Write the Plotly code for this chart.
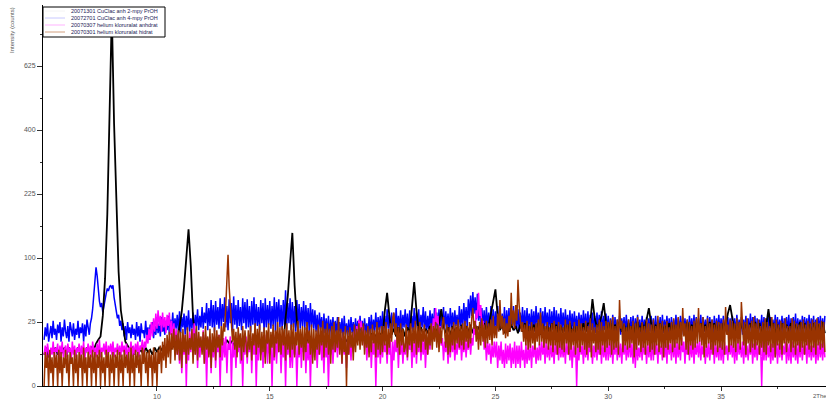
import numpy as np
import plotly.graph_objects as go

# ---- data (counts) ----
# blue / magenta / brown scans: 2-theta from 5.00 in steps of 0.05
# black scan: 2-theta from 5.0 in steps of 0.1
X_START = 5.0
STEP_FINE = 0.05
STEP_BLACK = 0.1

SERIES_NAMES = [
    "20071301 CuClac anh 2-mpy PrOH",
    "20072701 CuClac anh 4-mpy PrOH",
    "20070307 helium kloruralat anhdrat",
    "20070301 helium kloruralat hidrat",
]

blue_4mpy = [
13,21,15,24,12,19,22,14,26,16, 20,13,23,17,25,12,21,15,27,18,
14,22,12,25,19,15,24,13,20,16, 26,14,21,17,24,12,23,15,27,19,
16,24,28,36,48,66,86,74,55,44, 38,42,33,40,46,52,58,55,60,62,
58,62,48,40,34,28,31,22,26,19, 24,15,22,13,25,17,21,14,23,16,
20,13,25,15,22,12,24,17,19,14, 26,15,21,13,23,18,25,14,22,16,
27,17,24,15,29,18,22,16,26,19, 30,16,27,19,33,17,28,20,31,18,
34,17,29,21,32,16,30,19,35,18, 28,20,33,17,31,22,36,19,30,21,
38,20,33,24,42,19,37,22,45,21, 40,18,44,23,38,20,47,22,41,25,
48,21,39,19,46,24,42,18,49,23, 40,20,45,22,38,19,47,24,43,20,
46,21,39,18,44,23,48,20,41,22, 38,19,45,24,42,17,47,21,40,23,
44,20,39,22,48,18,43,25,46,21, 40,19,45,23,56,20,42,24,47,19,
43,21,39,18,45,23,41,20,38,22, 44,19,40,22,37,17,42,21,36,20,
35,18,31,16,33,20,29,15,32,17, 28,16,30,14,27,17,29,15,26,16,
29,15,25,17,28,14,30,16,24,15, 27,14,29,17,25,15,28,16,26,14,
30,16,26,15,28,17,24,14,29,16, 31,17,27,18,33,16,29,19,30,18,
34,18,30,17,36,20,31,18,33,19, 32,17,37,20,30,19,35,18,31,21,
36,19,32,17,35,20,30,18,37,19, 33,20,36,18,31,21,38,19,34,17,
30,19,35,21,32,18,37,20,33,19, 36,18,31,20,38,19,34,21,32,18,
37,20,33,19,35,22,31,18,39,21, 36,20,42,23,38,21,46,28,50,30,
54,32,48,27,52,26,40,22,37,20, 35,19,38,21,33,18,39,20,36,19,
34,18,39,21,36,20,32,19,38,17, 35,20,37,18,33,21,39,19,34,20,
36,18,33,20,38,19,35,17,37,21, 32,19,36,20,34,18,39,21,33,19,
37,20,34,18,38,21,33,19,36,18, 34,19,38,17,35,20,32,18,37,19,
33,18,36,20,31,17,35,19,32,18, 34,19,30,17,33,20,31,18,35,19,
32,18,34,17,31,19,33,18,30,17, 33,19,31,18,34,17,30,19,32,18,
30,17,28,18,31,16,29,17,27,18, 30,16,28,19,29,17,31,18,27,16,
29,17,30,16,28,18,31,17,27,16, 30,18,27,17,29,16,28,18,30,17,
28,16,30,17,27,18,29,16,31,17, 27,18,30,17,28,16,29,18,27,17,
31,17,28,18,30,16,29,17,28,18, 27,16,30,18,28,17,31,16,29,18,
28,17,31,16,29,18,27,17,30,16, 29,18,27,16,30,17,28,18,31,17,
28,16,30,18,27,17,29,16,28,18, 30,17,28,16,31,18,27,17,29,16,
27,18,30,17,28,16,32,18,29,17, 30,16,28,18,27,17,31,16,29,18,
28,17,30,16,29,18,27,17,31,16, 29,18,27,17,30,16,28,18,29,17,
31,16,28,18,29,17,32,16,28,18, 27,17,30,16,29,18,28,17,31,16,
28,18,30,17,27,16,29,18,30,17, 28,17,30]

black_2mpy = [
6,9,5,8,7,9,6,8,7,9,
6,9,7,8,6,9,7,8,6,9,
7,9,8,11,13,15,30,70,180,450,
850,420,220,80,35,20,12,10,8,9,
6,9,7,8,6,9,7,8,6,9,
7,9,8,10,7,9,8,10,9,12,
22,34,60,97,150,88,28,14,10,13,
10,14,11,13,10,12,12,14,11,13,
10,13,11,12,10,14,9,12,11,13,
10,13,9,14,11,12,10,13,9,12,
10,13,11,12,9,13,11,28,50,92,
143,62,26,14,10,13,11,14,10,13,
10,14,11,13,10,14,11,13,10,14,
11,15,12,14,12,15,11,14,12,15,
12,16,13,15,12,17,13,16,14,17,
15,35,53,30,16,20,15,21,16,20,
15,21,17,38,66,35,18,21,16,20,
17,22,16,21,18,24,36,22,17,21,
16,22,18,21,17,23,16,22,18,23,
17,23,19,22,18,24,19,22,32,45,
57,30,19,23,17,22,18,23,19,22,
17,23,18,24,16,22,18,23,17,24,
16,23,18,22,17,24,18,23,16,22,
17,23,18,24,17,22,16,23,18,24,
18,24,24,46,28,21,24,30,42,24,
18,24,17,23,19,25,18,23,17,24,
18,23,17,25,18,24,19,27,37,24,
18,23,17,24,18,22,19,24,18,23,
17,24,18,23,19,25,18,23,17,24,
18,24,17,23,18,25,19,24,18,23,
17,24,22,32,40,28,18,23,17,24,
18,23,17,24,19,25,18,24,17,23,
22,36,21,24,17,23,18,24,19,23,
18,24,17,23,19,25,18,24,17,23,
18,24,19,23,18,25,17]

magenta_anh = [
6,10,5,11,7,4,9,6,12,5, 9,7,11,4,10,6,12,5,8,10,
5,11,7,9,4,12,6,10,5,9, 7,11,5,10,6,12,4,9,7,11,
6,10,5,12,7,9,5,11,6,13, 5,9,7,11,6,12,4,10,7,11,
6,12,5,9,7,11,6,10,5,12, 7,10,6,11,4,9,7,12,5,10,
6,11,7,12,5,10,8,13,6,12, 9,16,11,20,13,25,15,28,18,32,
20,35,22,30,18,33,21,29,17,31, 22,33,16,26,12,24,10,20,6,16,
3,14,1,11,6,16,0,12,4,18, 7,20,10,24,6,18,2,15,5,13,
8,19,3,16,0,14,6,12,1,13, 5,15,2,11,7,16,0,12,4,14,
5,15,1,11,8,15,0,12,5,13, 2,12,7,16,3,14,0,11,6,15,
3,12,7,15,1,14,6,16,0,11, 4,13,6,15,2,12,5,16,3,12,
6,15,0,12,4,16,3,13,7,15, 1,12,5,14,0,13,6,15,2,11,
2,13,6,14,0,10,5,15,2,13, 7,14,1,12,4,16,0,11,5,14,
7,14,2,12,6,16,4,12,1,15, 5,13,0,11,6,15,3,12,7,14,
5,14,8,13,3,15,6,12,2,14, 6,13,4,15,7,18,11,22,14,27,
20,26,15,22,9,15,4,12,7,15, 2,12,6,14,0,11,5,15,3,13,
5,15,7,11,3,14,6,13,0,12, 4,13,7,15,2,12,6,14,3,11,
6,15,4,14,8,13,2,12,5,16, 3,12,7,14,4,13,6,15,2,12,
6,15,8,18,12,28,20,37,24,30, 14,22,10,14,4,12,7,13,3,12,
5,14,7,15,4,11,6,16,8,14, 4,12,7,15,5,13,8,16,6,14,
10,22,16,35,28,53,30,40,18,26, 8,14,4,12,6,11,3,10,5,12,
5,12,2,10,4,12,3,8,2,11, 3,10,4,11,2,9,3,12,2,10,
3,10,2,12,4,8,2,11,3,9, 4,11,2,10,5,12,3,9,4,11,
4,12,6,11,3,13,5,10,4,12, 5,10,3,12,6,11,4,13,5,10,
5,11,3,13,6,10,4,12,2,10, 5,12,0,11,4,13,6,10,3,12,
5,13,4,11,7,12,3,10,5,14, 4,11,6,13,3,12,5,10,4,13,
4,12,5,14,3,10,6,13,4,12, 5,11,3,13,6,12,4,10,5,14,
5,11,3,12,2,14,4,9,5,12, 4,13,6,10,3,12,5,11,4,13,
4,13,6,11,3,12,6,10,4,14, 5,12,3,14,6,11,4,13,5,12,
3,12,5,11,4,14,7,12,3,11, 6,13,4,12,5,14,3,11,6,12,
5,13,4,10,6,12,3,10,5,12, 4,11,6,13,3,12,5,10,4,13,
4,11,3,12,6,10,4,13,6,11, 5,12,3,11,4,13,6,10,5,12,
3,12,5,10,4,11,6,13,3,11, 5,12,4,10,6,11,0,13,4,12,
4,12,5,10,3,11,4,12,5,13, 3,11,5,12,4,10,6,12,3,11,
4,11,3,12,5,10,4,11,3,12, 5,12,4,10,6,11,3,13,5,10,
4,10,5,12,3,11,4,12,5,11, 4,12,5]

brown_hyd = [
0,7,2,6,0,8,1,5,0,7, 2,6,0,8,1,7,0,5,2,8,
1,6,0,7,3,5,0,8,1,6, 0,7,2,6,0,9,1,5,0,7,
2,6,0,8,1,7,0,6,2,8, 0,7,1,5,0,8,2,7,0,6,
1,7,0,6,2,8,0,7,1,6, 0,8,2,6,1,7,0,9,1,6,
0,8,2,7,1,6,0,9,3,8, 1,7,0,8,2,6,0,9,1,7,
0,8,3,10,1,12,4,14,2,16, 5,18,3,17,8,20,4,16,6,19,
4,18,2,20,7,16,3,21,6,14, 8,20,3,17,6,22,4,18,9,15,
6,18,3,22,8,15,5,20,2,17, 7,21,4,19,9,16,5,22,10,24,
18,45,70,105,60,40,22,12,20,8, 18,5,21,9,17,4,22,7,19,10,
5,19,8,22,4,17,10,24,6,20, 9,23,4,18,7,21,3,19,11,24,
3,18,9,23,5,19,11,25,7,21, 6,22,10,20,4,24,8,19,5,23,
8,24,5,18,10,26,6,20,9,22, 4,21,7,25,11,19,6,23,3,20,
4,19,8,23,6,21,10,26,5,20, 9,24,6,20,3,22,8,25,7,19,
9,29,6,20,3,18,7,22,0,19, 6,21,9,18,4,23,7,20,10,24,
8,21,10,24,6,19,9,22,5,20, 7,23,11,19,5,25,8,21,6,22,
7,22,10,25,6,20,9,24,12,28, 33,16,24,9,21,6,24,10,20,7,
9,23,5,19,10,24,7,21,11,26, 6,22,9,25,7,20,12,23,8,19,
6,20,10,24,8,22,12,25,9,23, 7,21,11,24,29,18,9,23,6,21,
7,21,10,25,8,23,11,27,9,22, 10,24,8,26,12,22,9,25,11,28,
37,20,26,12,22,8,25,10,28,12, 23,9,26,11,24,13,27,10,30,14,
22,14,32,18,45,20,30,16,28,14, 24,15,30,18,53,22,35,20,40,26,
69,40,28,18,25,12,23,10,26,8, 22,9,25,11,21,8,24,12,27,10,
33,12,24,9,22,11,25,8,21,10, 24,7,26,10,22,6,25,9,23,8,
21,7,27,11,23,6,26,8,20,10, 25,6,22,9,27,7,24,10,21,8,
26,6,22,9,28,5,24,11,21,7, 23,8,27,6,25,10,22,7,26,9,
25,10,27,6,29,8,22,9,27,6, 45,20,26,7,24,10,21,8,27,9,
22,11,26,5,24,8,29,10,21,7, 25,9,22,6,27,10,24,7,23,8,
27,6,22,10,30,7,24,9,26,5, 23,9,26,8,21,11,25,7,28,9,
23,11,29,8,25,10,37,15,24,8, 27,6,25,10,22,8,26,9,28,11,
37,12,24,10,29,5,22,9,28,11, 24,8,27,6,23,10,26,7,25,9,
24,8,27,6,38,16,23,7,27,10, 26,9,24,7,28,11,25,8,43,18,
10,25,6,28,11,23,7,26,9,29, 8,24,10,27,6,22,9,25,7,28,
6,25,10,22,7,29,9,24,5,27, 10,23,8,26,6,24,11,28,7,22,
11,22,7,28,9,26,6,24,10,23, 7,25,9,27,6,23,10,26,8,24,
7,27,9,25,6,28,10,24,8,26, 9,25,7]

X_TICKS = [10, 15, 20, 25, 30, 35]
X_MINOR = [7.5, 12.5, 17.5, 22.5, 27.5, 32.5, 37.5]
Y_TICK_COUNTS = [0, 25, 100, 225, 400, 625]
Y_MINOR_COUNTS = [6.25, 56.25, 156.25, 306.25, 506.25, 756.25]

COLORS = ["#000000", "#0000ff", "#ff00ff", "#993300"]
LINE_WIDTHS = [1.8, 1.5, 1.5, 1.5]
LEGEND_LINE_COLORS = ["#f4f4f4", "#c8c8ff", "#ffb3ff", "#d2a080"]

# ---- figure ----
W, H = 826, 400
ML, MR, MT, MB = 43, 0, 5, 14
PW, PH = W - ML - MR, H - MT - MB

def px2x(px):
    return (px - ML) / PW

def py2y(py):
    return (H - MB - py) / PH

series = [black_2mpy, blue_4mpy, magenta_anh, brown_hyd]
steps = [STEP_BLACK, STEP_FINE, STEP_FINE, STEP_FINE]

fig = go.Figure()
draw_order = [1, 0, 2, 3]  # blue under black, then magenta, brown on top
for i in draw_order:
    vals = np.array(series[i], dtype=float)
    xs = np.round(X_START + steps[i] * np.arange(len(vals)), 3)
    fig.add_trace(go.Scatter(
        x=xs, y=np.sqrt(vals),
        mode="lines", name=SERIES_NAMES[i],
        line=dict(color=COLORS[i], width=LINE_WIDTHS[i]),
        showlegend=False, hoverinfo="skip"))

tickfont = dict(family="Liberation Sans, Arial, sans-serif", size=7, color="#555555")

fig.update_layout(
    width=W, height=H,
    margin=dict(l=ML, r=MR, t=MT, b=MB, pad=0),
    paper_bgcolor="white", plot_bgcolor="white",
    showlegend=False,
    xaxis=dict(range=[4.95, 39.65], tickvals=X_TICKS, ticktext=[str(v) for v in X_TICKS],
               ticks="outside", ticklen=4, tickcolor="#333", showline=True, linecolor="#000",
               linewidth=1, showgrid=False, zeroline=False, tickfont=tickfont,
               minor=dict(tickvals=X_MINOR, ticks="outside", ticklen=2, tickcolor="#333")),
    yaxis=dict(range=[0, (H - MB - MT) / 12.8], tickvals=[np.sqrt(v) for v in Y_TICK_COUNTS],
               ticktext=[str(v) for v in Y_TICK_COUNTS],
               ticks="outside", ticklen=5, tickcolor="#333", showline=True, linecolor="#000",
               linewidth=1, showgrid=False, zeroline=False, tickfont=tickfont,
               minor=dict(tickvals=[np.sqrt(v) for v in Y_MINOR_COUNTS], ticks="outside",
                          ticklen=2, tickcolor="#333")),
)

# axis titles
fig.add_annotation(text="Intensity (counts)", xref="paper", yref="paper",
                   x=px2x(12), y=py2y(30), textangle=-90, showarrow=False,
                   xanchor="center", yanchor="middle",
                   font=dict(family="Liberation Sans, Arial, sans-serif", size=6, color="#555"))
fig.add_annotation(text="2Theta (°)", xref="paper", yref="paper",
                   x=px2x(811), y=py2y(396), showarrow=False,
                   xanchor="left", yanchor="middle",
                   font=dict(family="Liberation Sans, Arial, sans-serif", size=6, color="#555"))

# legend box
fig.add_shape(type="rect", xref="paper", yref="paper",
              x0=px2x(43), x1=px2x(165), y0=py2y(37), y1=py2y(7),
              fillcolor="white", line=dict(color="#000", width=1), layer="above")
rows = [11, 18, 25, 32]
for i, ry in enumerate(rows):
    fig.add_shape(type="line", xref="paper", yref="paper",
                  x0=px2x(45), x1=px2x(65), y0=py2y(ry), y1=py2y(ry),
                  line=dict(color=LEGEND_LINE_COLORS[i], width=1), layer="above")
    fig.add_annotation(text=SERIES_NAMES[i], xref="paper", yref="paper",
                       x=px2x(69), y=py2y(ry), showarrow=False,
                       xanchor="left", yanchor="middle",
                       font=dict(family="Liberation Sans, Arial, sans-serif", size=5.5, color="#222255"))

fig.write_html("out.html", config={"displayModeBar": False},
               post_script="document.body.style.margin='0px';")
